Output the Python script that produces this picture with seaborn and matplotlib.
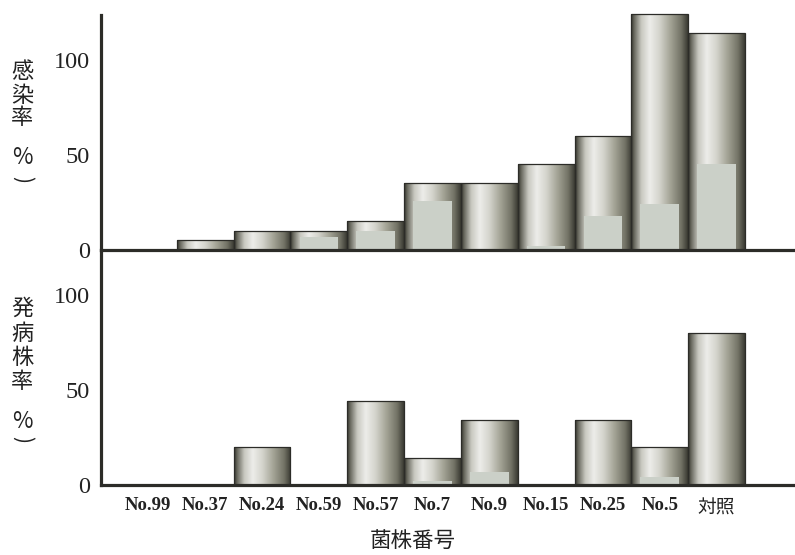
import numpy as np
import pandas as pd
import seaborn as sns
import matplotlib
matplotlib.use("Agg")
import matplotlib.pyplot as plt
from matplotlib.colors import LinearSegmentedColormap

# ---- data ----
strains = ["No.99", "No.37", "No.24", "No.59", "No.57", "No.7", "No.9",
           "No.15", "No.25", "No.5", "対照"]
infection_total = [0, 5, 10, 10, 15, 35, 35, 45, 60, 124, 114]
infection_inner = [0, 0, 0, 7, 10, 26, 0, 2, 18, 24, 45]
disease_total = [0, 0, 20, 0, 44, 14, 34, 0, 34, 20, 80]
disease_inner = [0, 0, 0, 0, 0, 2, 7, 0, 0, 4, 0]
yticks = [0, 50, 100]

sns.set_theme(style="white")
plt.rcParams["font.family"] = ["Liberation Serif", "Noto Sans CJK JP", "DejaVu Sans"]

W, H = 795, 555
fig = plt.figure(figsize=(W / 100, H / 100), dpi=100)
left = 101 / W
top_y = 10 / H
mid_y = 250 / H
bot_y = 485 / H
ax_top = fig.add_axes([left, 1 - mid_y, 1 - left, mid_y - top_y])
ax_bot = fig.add_axes([left, 1 - bot_y, 1 - left, bot_y - mid_y])

cmap = LinearSegmentedColormap.from_list("cyl", [
    (0.00, "#34342c"),
    (0.06, "#6c6c62"),
    (0.18, "#c8c8c0"),
    (0.33, "#ededea"),
    (0.50, "#d4d4cc"),
    (0.70, "#a2a294"),
    (0.88, "#737366"),
    (1.00, "#3a3a32"),
])
grad = np.linspace(0, 1, 256).reshape(1, -1)
dark = "#2c2c28"


def draw_panel(ax, totals, inners, ytop, spine_top):
    df_t = pd.DataFrame({"strain": strains, "value": totals})
    df_i = pd.DataFrame({"strain": strains, "value": inners})
    sns.barplot(data=df_t, x="strain", y="value", ax=ax, width=1.0,
                color="#bbbbb2", order=strains)
    n_outer = len(ax.patches)
    sns.barplot(data=df_i, x="strain", y="value", ax=ax, width=0.68,
                color="#cbd1c7", order=strains)
    patches = list(ax.patches)
    for p in patches[:n_outer]:
        x0, y0 = p.get_x(), p.get_y()
        w, h = p.get_width(), p.get_height()
        if h <= 0:
            p.set_visible(False)
            continue
        im = ax.imshow(grad, cmap=cmap, extent=[x0, x0 + w, y0, y0 + h],
                       aspect="auto", zorder=2, interpolation="bicubic")
        im.set_clip_path(p)
        p.set_facecolor("none")
        p.set_edgecolor(dark)
        p.set_linewidth(0.9)
        p.set_zorder(2.5)
    for p in patches[n_outer:]:
        if p.get_height() <= 0:
            p.set_visible(False)
            continue
        p.set_edgecolor("none")
        p.set_zorder(3)
    ax.set_xlim(-0.834, 11.38)
    ax.set_ylim(0, ytop)
    ax.set_yticks(yticks)
    ax.set_yticklabels([str(t) for t in yticks], fontsize=17.5,
                       family="Liberation Serif", color="#222222")
    ax.tick_params(axis="both", length=0)
    ax.tick_params(axis="y", pad=8)
    for s in ["top", "right"]:
        ax.spines[s].set_visible(False)
    for s in ["left", "bottom"]:
        ax.spines[s].set_visible(True)
        ax.spines[s].set_color(dark)
        ax.spines[s].set_linewidth(2.3)
    ax.spines["left"].set_bounds(0, spine_top)
    ax.spines["bottom"].set_zorder(4)
    ax.set_xlabel("")
    ax.set_ylabel("")
    ax.set_facecolor("none")


draw_panel(ax_top, infection_total, infection_inner, 126.2, 123.5)
draw_panel(ax_bot, disease_total, disease_inner, 123.7, 123.7)

ax_top.set_xticklabels([])
ax_bot.set_xticks(range(len(strains)))
ax_bot.set_xticklabels(strains)
for lab in ax_bot.get_xticklabels():
    if lab.get_text().startswith("No"):
        lab.set_fontfamily("Liberation Serif")
        lab.set_fontweight("bold")
        lab.set_fontsize(13.5)
    else:
        lab.set_fontfamily("Noto Sans CJK JP")
        lab.set_fontsize(13.5)
    lab.set_color("#222222")
ax_bot.tick_params(axis="x", pad=9)

# vertical y labels
cjk = ["Noto Sans CJK JP", "DejaVu Sans"]
top_chars = [("感", 72), ("染", 95), ("率", 118), ("%", 158)]
bot_chars = [("発", 308), ("病", 333), ("株", 357), ("率", 382), ("%", 421)]
for ch, yy in top_chars + bot_chars:
    fig.text(22 / W, 1 - yy / H, ch, ha="center", va="center", fontsize=16,
             family=cjk, color="#222222")
for yy in (179, 440):
    fig.text(22 / W, 1 - yy / H, ")", ha="center", va="center", fontsize=15,
             family=cjk, color="#222222", rotation=-90)

fig.text(413 / W, 1 - 541 / H, "菌株番号", ha="center", va="center",
         fontsize=15.5, family=cjk, color="#222222")

fig.savefig("out.png", dpi=100, facecolor="white")
